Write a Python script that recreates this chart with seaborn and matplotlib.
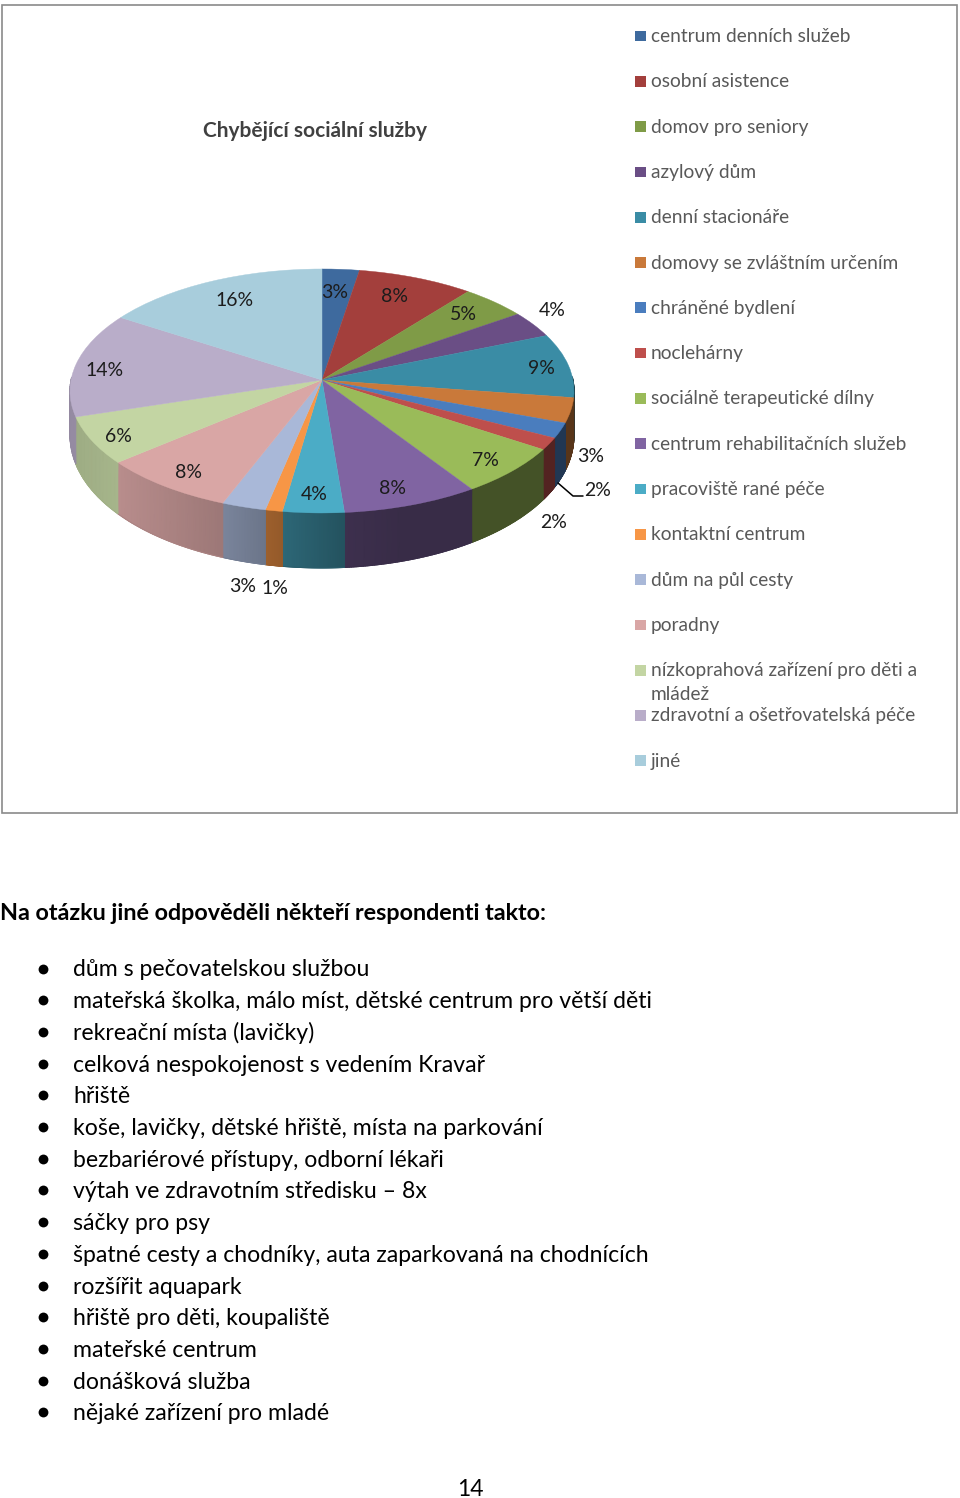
import numpy as np
import matplotlib
matplotlib.use('Agg')
import matplotlib.pyplot as plt
import seaborn as sns
from matplotlib.colors import LinearSegmentedColormap
from matplotlib.patches import Rectangle
from matplotlib.transforms import Transform

# legend entries in slice order
services = ['centrum denních služeb', 'osobní asistence', 'domov pro seniory', 'azylový dům',
            'denní stacionáře', 'domovy se zvláštním určením', 'chráněné bydlení', 'noclehárny',
            'sociálně terapeutické dílny', 'centrum rehabilitačních služeb', 'pracoviště rané péče',
            'kontaktní centrum', 'dům na půl cesty', 'poradny',
            'nízkoprahová zařízení pro děti a\nmládež', 'zdravotní a ošetřovatelská péče', 'jiné']
shares = [2.6, 8.1, 4.6, 3.5, 8.5, 3.3, 2.0, 1.6, 6.5, 8.0, 3.6, 1.0, 2.6, 8.0, 6.3, 13.9, 15.9]
share_labels = ['3%', '8%', '5%', '4%', '9%', '3%', '2%', '2%', '7%', '8%', '4%', '1%', '3%', '8%', '6%', '14%', '16%']
slice_colors = ['#3E6A9E', '#A33F3C', '#7F9B47', '#6A4E85', '#3A8CA5', '#C9793A', '#4A7DBE', '#BE4F4C',
                '#9ABB59', '#8064A2', '#4BACC6', '#F79646', '#A9B8D8', '#D9A6A5', '#C3D5A3', '#B9ADC9', '#A8CDDC']

chart_title = 'Chybějící sociální služby'
heading = 'Na otázku jiné odpověděli někteří respondenti takto:'
answers = ['dům s pečovatelskou službou', 'mateřská školka, málo míst, dětské centrum pro větší děti',
           'rekreační místa (lavičky)', 'celková nespokojenost s vedením Kravař', 'hřiště',
           'koše, lavičky, dětské hřiště, místa na parkování', 'bezbariérové přístupy, odborní lékaři',
           'výtah ve zdravotním středisku – 8x', 'sáčky pro psy',
           'špatné cesty a chodníky, auta zaparkovaná na chodnících', 'rozšířit aquapark',
           'hřiště pro děti, koupaliště', 'mateřské centrum', 'donášková služba', 'nějaké zařízení pro mladé']
page_number = '14'

# label centres on the page, pixels
label_x = [335, 394, 463, 552, 541, 591, 598, 554, 485, 392, 314, 275, 243, 189, 118, 105, 235]
label_y = [292, 297, 315, 311, 369, 456, 490, 523, 460, 489, 495, 589, 586, 473, 436, 370, 301]

APEX_X, APEX_Y = 322, 380
RX, A, K = 251, 121, 0.09


def project(x, y):
    w = 1 + K * y
    return APEX_X + RX * x / w, APEX_Y - A * y / w


class Perspective(Transform):
    # tilts the flat unit pie the way Excel's 3D pie looks
    input_dims = 2
    output_dims = 2

    def transform_non_affine(self, values):
        px, py = project(values[:, 0], values[:, 1])
        return np.column_stack([px, py])


sns.set_theme(style='white')
plt.rcParams['font.family'] = ['Lato', 'DejaVu Sans']

fig = plt.figure(figsize=(9.6, 14.98), dpi=100)
ax = fig.add_axes([0, 0, 1, 1])

palette = sns.color_palette(slice_colors)
wedges, _ = ax.pie(shares, colors=palette, startangle=90, counterclock=False,
                   wedgeprops={'linewidth': 0.3})
persp = Perspective() + ax.transData
for w in wedges:
    w.set_edgecolor(w.get_facecolor())
    w.set_transform(persp)
    w.set_zorder(3)

ax.set_aspect('auto')
ax.set_xlim(0, 960)
ax.set_ylim(1498, 0)
ax.axis('off')

# side wall, shade depends on where it sits on the page
for w, color in zip(wedges, palette):
    th = np.radians(np.linspace(w.theta1, w.theta2, 60))
    ux, uy = np.cos(th), np.sin(th)
    keep = uy < 0.03
    if keep.sum() < 2:
        continue
    ux, uy = ux[keep], uy[keep]
    px, py = project(ux, uy)
    depth = 41 + 14 * np.clip(-uy, 0, 1) ** 0.7
    shade = np.interp(px, [70, 117, 223, 283, 344, 400, 575], [0.80, 0.85, 0.72, 0.60, 0.48, 0.44, 0.44])
    cmap = LinearSegmentedColormap.from_list('wall', [(0, 0, 0), color])
    ax.pcolormesh(np.vstack([px, px]), np.vstack([py, py + depth]), np.vstack([shade, shade]),
                  cmap=cmap, vmin=0, vmax=1, shading='gouraud', zorder=2)
    # smooths the lower edge of the mesh
    ax.plot(px, py + depth, color=tuple(np.array(color) * shade.mean()), lw=0.7, zorder=2)

for x, y, t in zip(label_x, label_y, share_labels):
    ax.text(x, y, t, fontsize=14, color='#1c1c1c', ha='center', va='center', zorder=5)
ax.plot([558, 573, 583], [483, 496, 496], color='black', lw=1.1, zorder=4)

# chart frame
ax.add_patch(Rectangle((1.5, 4.5), 955.5, 808.5, fill=False, edgecolor='#8a8a8a', linewidth=1.2, zorder=1))
ax.text(203, 137, chart_title, fontsize=15, fontweight='bold', color='#404040', ha='left', va='baseline')

# legend
legend_y = 36 + 45.3 * np.arange(len(services))
sns.scatterplot(x=[640.5] * len(services), y=legend_y, hue=services, palette=slice_colors, marker='s',
                s=60, linewidth=0, legend=False, ax=ax, zorder=4)
for y, name in zip(legend_y, services):
    for j, line in enumerate(name.split('\n')):
        ax.text(651, y + 6 + 24 * j, line, fontsize=13.75, color='#595959', ha='left', va='baseline')

# text below the chart
ax.text(0, 919.5, heading, fontsize=16.85, fontweight='bold', color='black', ha='left', va='baseline')
answer_y = 968.5 + 31.7 * np.arange(len(answers))
sns.scatterplot(x=[43] * len(answers), y=answer_y, color='black', s=50, linewidth=0, legend=False, ax=ax, zorder=4)
for y, t in zip(answer_y, answers):
    ax.text(73, y + 8, t, fontsize=16.55, color='black', ha='left', va='baseline')
ax.text(470, 1496, page_number, fontsize=16.5, color='black', ha='center', va='baseline')

ax.set_xlim(0, 960)
ax.set_ylim(1498, 0)
fig.savefig('out.png', dpi=100, facecolor='white')
